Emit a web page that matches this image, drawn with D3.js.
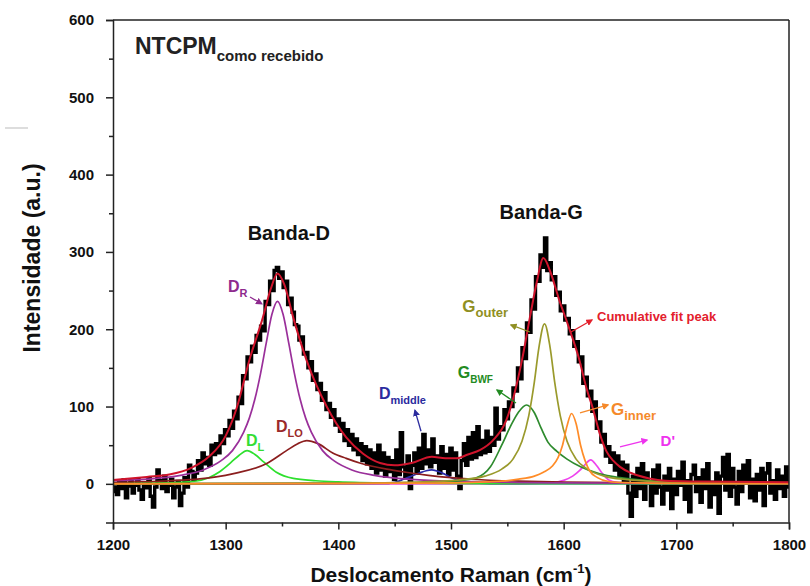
<!DOCTYPE html>
<html>
<head>
<meta charset="utf-8">
<script src="https://cdn.jsdelivr.net/npm/d3@7"></script>
<style>
  body { margin: 0; background: #fff; }
  text { font-family: "Liberation Sans", Arial, sans-serif; font-weight: bold; }
</style>
</head>
<body>
<div id="chart"></div>
<script>
// raw spectrum, one value every 2 cm-1 from 1200 to 1800
const rawStart = 1200, rawStep = 2;
const rawIntensity = [
  -10, -4, -14, 2, -6, 5, -18, -3, 4, -12,
  -2, 6, -8, -20, 0, -5, 8, -16, -30, -4,
  18, 4, -6, 10, -10, -2, 6, -18, -4, 3,
  -28, -12, 8, -4, 24, 16, 6, 14, 30, 18,
  40, 26, 34, 24, 50, 38, 52, 40, 62, 52,
  70, 62, 82, 72, 94, 84, 112, 104, 140, 136,
  164, 158, 178, 170, 192, 186, 204, 198, 236, 232,
  262, 250, 276, 280, 266, 274, 254, 262, 232, 240,
  222, 206, 204, 186, 190, 168, 170, 150, 158, 134,
  142, 122, 130, 108, 118, 96, 104, 86, 96, 76,
  84, 68, 78, 56, 70, 50, 64, 44, 58, 38,
  52, 30, 48, 26, 44, 20, 40, 14, 50, 18,
  40, 10, 34, 16, 30, 6, 44, 12, 66, 22,
  8, 36, -6, 24, 40, 14, 46, 20, 64, 26,
  44, 22, 58, 28, 36, 14, 48, 20, 38, 12,
  46, 18, 40, 10, -6, 30, 52, 24, 60, 32,
  66, 34, 74, 38, 56, 40, 68, 42, 60, 50,
  98, 58, 74, 70, 96, 84, 106, 100, 124, 120,
  150, 136, 176, 162, 208, 196, 238, 226, 268, 262,
  296, 280, 318, 276, 286, 264, 268, 244, 248, 224,
  230, 212, 214, 194, 198, 178, 184, 158, 164, 130,
  138, 114, 120, 94, 106, 72, 80, 54, 64, 36,
  48, 28, 40, 18, 36, 10, 28, 2, 24, -12,
  -42, 10, -16, 20, -6, 26, -20, 14, 2, -28,
  18, -12, 24, -4, -26, 10, -8, 20, -32, 6,
  -14, 16, -2, 28, -20, 4, -36, 12, 24, -10,
  8, -24, 18, -6, 26, -30, 2, -14, 14, -38,
  10, 34, -8, 38, -16, 20, -4, -26, 16, -10,
  24, 2, 30, -18, 6, -22, 12, -8, 20, -28,
  14, 26, -12, 4, -20, 18, -6, 10, -16, 22,
  -4
];

// fitted curves, [shift, intensity]
const cumulativeFit = [[1200,5],[1230,9],[1250,12],[1270,21],[1285,35],[1300,62],[1310,99],[1321,160],[1333,215],[1340,252],[1346,272],[1352,258],[1360,215],[1372,159],[1390,99],[1407,60],[1422,39],[1437,27],[1450,24],[1465,27],[1483,35],[1495,33],[1505,33],[1515,38],[1526,44],[1537,56],[1549,82],[1556,115],[1563,160],[1570,215],[1576,260],[1582,292],[1588,275],[1596,238],[1604,205],[1614,160],[1620,125],[1626,97],[1632,65],[1638,42],[1644,30],[1650,22],[1660,14],[1676,7],[1690,4],[1720,3],[1800,2]];
const dR = [[1200,4],[1230,6],[1260,11],[1280,18],[1296,30],[1306,43],[1316,67],[1321,85],[1326,110],[1331,143],[1336,182],[1341,219],[1346,236],[1351,219],[1356,182],[1361,143],[1366,110],[1371,85],[1376,67],[1386,43],[1396,30],[1412,18],[1432,11],[1462,6],[1500,3.5],[1600,1.3],[1800,0.4]];
const dL = [[1200,0.5],[1240,1],[1270,3],[1285,8],[1295,16],[1305,28],[1312,37],[1319,43],[1326,38],[1334,28],[1345,15],[1360,7],[1380,4],[1400,2.5],[1450,1],[1520,0.4],[1800,0]];
const dLO = [[1200,2],[1250,4],[1277,6.5],[1306,13],[1336,26],[1354,43],[1364,52],[1372,56],[1382,52],[1395,40],[1407,33],[1419,27],[1443,19],[1460,15],[1480,11],[1500,8],[1530,5],[1560,3.5],[1600,2.2],[1700,1],[1800,0.6]];
const dMiddle = [[1200,0],[1440,0.5],[1450,2],[1458,6],[1465,10],[1472,14],[1478,17],[1483,18],[1489,16],[1495,12],[1502,7],[1508,4],[1516,2],[1525,1],[1545,0.3],[1800,0]];
const gBWF = [[1200,0],[1400,0.5],[1450,1],[1490,2.5],[1510,4.5],[1523,8],[1535,22],[1545,50],[1553,75],[1560,93],[1567,102],[1574,92],[1580,72],[1586,54],[1594,42],[1603,32],[1615,22],[1632,13],[1650,8],[1677,4],[1720,1.5],[1800,0.5]];
const gOuter = [[1200,0.2],[1400,1],[1450,1.7],[1480,2.8],[1510,5.4],[1530,10],[1545,19],[1555,32],[1563,55],[1569,88],[1574,132],[1578,176],[1583,207],[1588,176],[1592,132],[1597,88],[1603,55],[1611,32],[1621,19],[1636,10],[1656,5.4],[1686,2.8],[1750,1.1],[1800,0.7]];
const gInner = [[1200,0],[1400,0.4],[1480,1],[1520,2],[1545,3.5],[1560,6],[1574,10],[1582,15],[1590,23],[1595,34],[1599,50],[1603,75],[1607,91],[1611,78],[1615,50],[1619,30],[1623,17],[1630,8],[1640,3],[1655,1.5],[1700,0.5],[1800,0.2]];
const dPrime = [[1200,0],[1560,0],[1590,1.5],[1600,4.5],[1608,10],[1614,17],[1619,25],[1624,31],[1629,24],[1634,14],[1640,5],[1648,1.5],[1660,0.3],[1800,0]];

const xTicks = [1200, 1300, 1400, 1500, 1600, 1700, 1800];
const yTicks = [0, 100, 200, 300, 400, 500, 600];

const width = 810, height = 586;
const svg = d3.select("#chart").append("svg")
  .attr("width", width)
  .attr("height", height);

const x = d3.scaleLinear().domain([1200, 1800]).range([113, 789]);
const y = d3.scaleLinear().domain([-50, 600]).range([522.5, 20]);

// small stray mark at the left edge of the original figure
svg.append("line")
  .attr("x1", 5).attr("x2", 28).attr("y1", 128).attr("y2", 128)
  .attr("stroke", "#bbb").attr("stroke-width", 1);

const defs = svg.append("defs");
defs.append("clipPath").attr("id", "plot")
  .append("rect").attr("x", 113).attr("y", 20).attr("width", 676).attr("height", 502.5);

function arrowMarker(id, color) {
  defs.append("marker")
    .attr("id", id)
    .attr("viewBox", "0 -5 10 10")
    .attr("refX", 8)
    .attr("refY", 0)
    .attr("markerWidth", 7)
    .attr("markerHeight", 7)
    .attr("markerUnits", "userSpaceOnUse")
    .attr("orient", "auto")
    .append("path")
    .attr("d", "M0,-5L10,0L0,5Z")
    .attr("fill", color);
}

const plot = svg.append("g").attr("clip-path", "url(#plot)");

// raw data
const rawPoints = rawIntensity.map((v, i) => [rawStart + i * rawStep, v]);
plot.append("path")
  .datum(rawPoints)
  .attr("fill", "none")
  .attr("stroke", "#000")
  .attr("stroke-width", 3.4)
  .attr("stroke-linejoin", "miter")
  .attr("d", d3.line().x(d => x(d[0])).y(d => y(d[1])).curve(d3.curveStep));

const smooth = d3.line().x(d => x(d[0])).y(d => y(d[1])).curve(d3.curveMonotoneX);

const components = [
  { data: dPrime, color: "#ee44ee" },
  { data: dMiddle, color: "#2a2aa8" },
  { data: dL, color: "#2ee02e" },
  { data: dLO, color: "#8b1e1e" },
  { data: dR, color: "#9a2f9a" },
  { data: gBWF, color: "#2e8b2e" },
  { data: gOuter, color: "#9a9a2c" },
  { data: gInner, color: "#ff8c28" }
];

components.forEach(c => {
  plot.append("path")
    .datum(c.data)
    .attr("fill", "none")
    .attr("stroke", c.color)
    .attr("stroke-width", 1.7)
    .attr("d", smooth);
});

plot.append("path")
  .datum(cumulativeFit)
  .attr("fill", "none")
  .attr("stroke", "#d0142c")
  .attr("stroke-width", 2)
  .attr("d", smooth);

// axes and frame
svg.append("g")
  .attr("transform", `translate(0,${y(-50)})`)
  .call(d3.axisBottom(x).tickValues(d3.range(1250, 1800, 100)).tickSize(4).tickFormat(""))
  .call(g => g.select(".domain").remove());

const xAxis = svg.append("g")
  .attr("transform", `translate(0,${y(-50)})`)
  .call(d3.axisBottom(x).tickValues(xTicks).tickSize(7).tickPadding(10).tickFormat(d3.format("d")));
xAxis.selectAll("text").attr("font-size", 15).attr("fill", "#111")
  .style("font-family", "'Liberation Sans', Arial, sans-serif");

svg.append("g")
  .attr("transform", `translate(${x(1200)},0)`)
  .call(d3.axisLeft(y).tickValues(d3.range(50, 600, 100)).tickSize(4).tickFormat(""))
  .call(g => g.select(".domain").remove());

const yAxis = svg.append("g")
  .attr("transform", `translate(${x(1200)},0)`)
  .call(d3.axisLeft(y).tickValues(yTicks).tickSize(7).tickPadding(12).tickFormat(d3.format("d")));
yAxis.selectAll("text").attr("font-size", 15).attr("fill", "#111")
  .style("font-family", "'Liberation Sans', Arial, sans-serif");

svg.selectAll(".domain, .tick line").attr("stroke", "#222").attr("stroke-width", 1.5);

svg.append("line")
  .attr("x1", x(1200)).attr("x2", x(1800)).attr("y1", y(600)).attr("y2", y(600))
  .attr("stroke", "#222").attr("stroke-width", 1.5);
svg.append("line")
  .attr("x1", x(1800)).attr("x2", x(1800)).attr("y1", y(600)).attr("y2", y(-50))
  .attr("stroke", "#222").attr("stroke-width", 1.5);

// axis titles
const xTitle = svg.append("text")
  .attr("x", 451).attr("y", 582)
  .attr("text-anchor", "middle")
  .attr("font-size", 21)
  .attr("fill", "#111");
xTitle.append("tspan").text("Deslocamento Raman (cm");
xTitle.append("tspan").attr("font-size", 13).attr("dy", -9).text("-1");
xTitle.append("tspan").attr("dy", 9).text(")");

svg.append("text")
  .attr("transform", "translate(40,258) rotate(-90)")
  .attr("text-anchor", "middle")
  .attr("font-size", 23)
  .attr("fill", "#111")
  .text("Intensidade (a.u.)");

// annotations, positioned in data units
function label(px, py, main, sub, color, size, subSize) {
  const t = svg.append("text")
    .attr("x", x(px)).attr("y", y(py))
    .attr("font-size", size)
    .attr("fill", color);
  t.append("tspan").text(main);
  if (sub) t.append("tspan").attr("font-size", subSize).attr("dy", size * 0.3).text(sub);
  return t;
}

function arrow(id, color, from, to) {
  arrowMarker(id, color);
  svg.append("line")
    .attr("x1", x(from[0])).attr("y1", y(from[1]))
    .attr("x2", x(to[0])).attr("y2", y(to[1]))
    .attr("stroke", color)
    .attr("stroke-width", 1.3)
    .attr("marker-end", `url(#${id})`);
}

label(1219.5, 556, "NTCPM", "como recebido", "#222", 23, 15);

svg.append("text").attr("x", x(1356)).attr("y", y(316))
  .attr("text-anchor", "middle").attr("font-size", 20).attr("fill", "#111").text("Banda-D");
svg.append("text").attr("x", x(1580)).attr("y", y(343))
  .attr("text-anchor", "middle").attr("font-size", 20).attr("fill", "#111").text("Banda-G");

label(1302, 248, "D", "R", "#8e2a8e", 16, 11);
arrow("aDR", "#8e2a8e", [1321.6, 241.7], [1332, 233]);

label(1318, 49, "D", "L", "#33dd33", 16, 11);
label(1344.7, 67, "D", "LO", "#9b2a2a", 16, 11);

label(1436, 110, "D", "middle", "#2b2b9e", 16, 11);
arrow("aDm", "#2b2b9e", [1473.4, 68], [1468, 95]);

label(1506, 137, "G", "BWF", "#228b22", 16, 10);
arrow("aGb", "#228b22", [1557.7, 104.6], [1540.8, 121.4]);

label(1510, 222, "G", "outer", "#8f8f22", 17, 13);
arrow("aGo", "#8f8f22", [1570, 196.4], [1553.2, 205.5]);

svg.append("text").attr("x", x(1629.6)).attr("y", y(211))
  .attr("font-size", 13).attr("fill", "#e3202c").text("Cumulative fit peak");
arrow("aCf", "#e3202c", [1606.5, 196.4], [1625.1, 212]);

label(1642, 89, "G", "inner", "#f5892a", 17, 13);
arrow("aGi", "#f5892a", [1614.5, 91.7], [1639.4, 102]);

svg.append("text").attr("x", x(1686)).attr("y", y(49))
  .attr("font-size", 15).attr("fill", "#ee33ee").text("D'");
arrow("aDp", "#ee33ee", [1650, 47.7], [1674, 56.7]);
</script>
</body>
</html>
